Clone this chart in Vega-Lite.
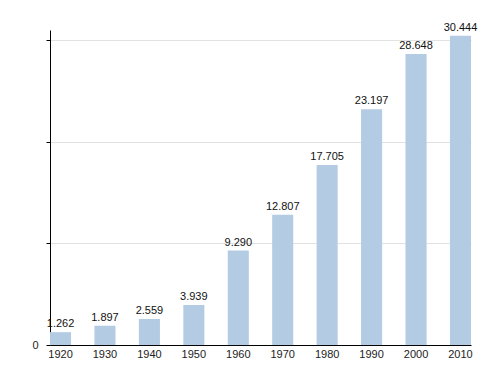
{
  "$schema": "https://vega.github.io/schema/vega-lite/v6.json",
  "autosize": "none",
  "padding": {"left": 50, "top": 30, "right": 29, "bottom": 30},
  "width": 421,
  "height": 315,
  "background": "white",
  "config": {
    "view": {"stroke": null},
    "font": "Liberation Sans",
    "locale": {"number": {"decimal": ",", "thousands": ".", "grouping": [3], "currency": ["", " €"]}}
  },
  "data": {
    "values": [
      {"year": "1920", "population": 1262},
      {"year": "1930", "population": 1897},
      {"year": "1940", "population": 2559},
      {"year": "1950", "population": 3939},
      {"year": "1960", "population": 9290},
      {"year": "1970", "population": 12807},
      {"year": "1980", "population": 17705},
      {"year": "1990", "population": 23197},
      {"year": "2000", "population": 28648},
      {"year": "2010", "population": 30444}
    ]
  },
  "encoding": {
    "x": {
      "field": "year",
      "type": "ordinal",
      "scale": {"paddingInner": 0.526, "paddingOuter": 0},
      "axis": {
        "title": null,
        "labelAngle": 0,
        "ticks": false,
        "domainColor": "#000000",
        "domainWidth": 1,
        "labelFontSize": 11,
        "labelColor": "#222222",
        "labelPadding": 3,
        "labelFont": "Liberation Sans"
      }
    },
    "y": {
      "field": "population",
      "type": "quantitative",
      "scale": {"domain": [0, 31000], "nice": false},
      "axis": {
        "title": null,
        "values": [0, 10000, 20000, 30000],
        "labelExpr": "datum.value == 0 ? '0' : ''",
        "grid": true,
        "gridColor": "#e2e2e2",
        "domainColor": "#000000",
        "tickColor": "#000000",
        "tickSize": 4,
        "labelPadding": 8,
        "labelFontSize": 11,
        "labelColor": "#222222",
        "labelFont": "Liberation Sans"
      }
    }
  },
  "layer": [
    {"mark": {"type": "bar", "color": "#b3cce4"}},
    {
      "mark": {"type": "text", "baseline": "bottom", "dy": -3, "fontSize": 11, "color": "#111111", "font": "Liberation Sans"},
      "encoding": {"text": {"field": "population", "type": "quantitative", "format": ",d"}}
    }
  ]
}
